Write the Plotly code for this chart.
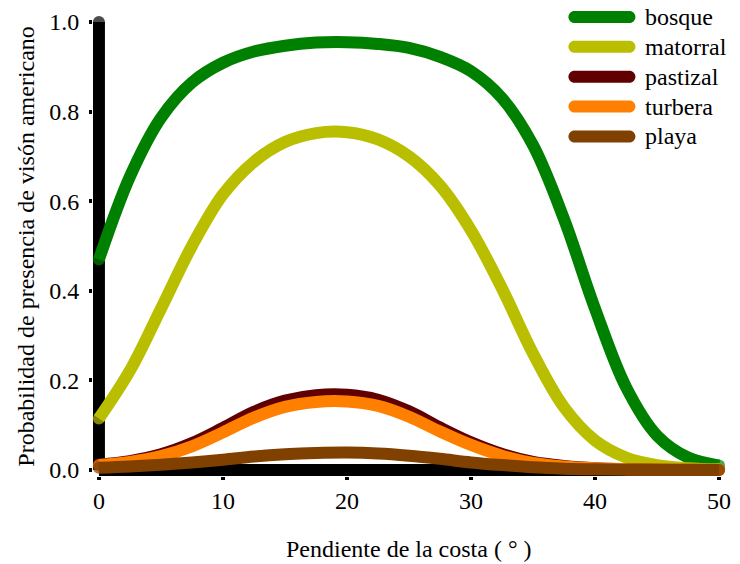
import plotly.graph_objects as go

# Pendiente de la costa (grados)
pendiente = [0, 2.5, 5, 7.5, 10, 12.5, 15, 17.5, 20, 22.5, 25,
             27.5, 30, 32.5, 35, 37.5, 40, 42.5, 45, 47.5, 50]

# Probabilidad de presencia por tipo de hábitat
bosque = [0.47, 0.655, 0.786, 0.865, 0.909, 0.934, 0.947, 0.954, 0.955, 0.951, 0.942,
          0.922, 0.89, 0.83, 0.725, 0.56, 0.36, 0.185, 0.077, 0.028, 0.01]
matorral = [0.115, 0.222, 0.36, 0.5, 0.615, 0.688, 0.732, 0.752, 0.754, 0.738, 0.7,
            0.635, 0.535, 0.405, 0.26, 0.14, 0.066, 0.028, 0.011, 0.004, 0.0015]
pastizal = [0.012, 0.02, 0.035, 0.06, 0.094, 0.13, 0.155, 0.167, 0.168, 0.157, 0.131,
            0.095, 0.062, 0.036, 0.018, 0.009, 0.004, 0.002, 0.001, 0.0005, 0.0002]
turbera = [0.011, 0.018, 0.031, 0.053, 0.084, 0.117, 0.141, 0.152, 0.153, 0.143, 0.119,
           0.086, 0.056, 0.032, 0.016, 0.008, 0.004, 0.002, 0.001, 0.0005, 0.0002]
playa = [0.005, 0.008, 0.012, 0.017, 0.023, 0.03, 0.035, 0.038, 0.039, 0.037, 0.032,
         0.025, 0.017, 0.011, 0.006, 0.003, 0.0015, 0.0007, 0.0003, 0.0001, 0.0001]

series = [
    ("bosque", bosque, "#008000"),
    ("matorral", matorral, "#b9bf00"),
    ("pastizal", pastizal, "#600000"),
    ("turbera", turbera, "#ff8000"),
    ("playa", playa, "#804000"),
]

x_ticks = [0, 10, 20, 30, 40, 50]
y_ticks = [0.0, 0.2, 0.4, 0.6, 0.8, 1.0]

FONT = "Liberation Serif"
LW = 12

fig = go.Figure()

# heavy axis lines drawn in data space, with rounded ends
fig.add_trace(go.Scatter(
    x=[0, 0], y=[y_ticks[-1], y_ticks[0]], mode="lines+markers",
    line=dict(color="black", width=LW),
    marker=dict(color="black", size=[LW, 0], line=dict(width=0)),
    showlegend=False, hoverinfo="skip", cliponaxis=False))
fig.add_trace(go.Scatter(
    x=[x_ticks[0], x_ticks[-1]], y=[0, 0], mode="lines",
    line=dict(color="black", width=LW),
    showlegend=False, hoverinfo="skip", cliponaxis=False))

n = len(pendiente)
for name, vals, color in series:
    sizes = [LW] + [0] * (n - 2) + [LW]
    fig.add_trace(go.Scatter(
        x=pendiente, y=vals, name=name, mode="lines+markers",
        line=dict(color=color, width=LW, shape="spline", smoothing=1.0),
        marker=dict(color=color, size=sizes, line=dict(width=0)),
        showlegend=False, cliponaxis=False))

# plot area geometry (pixels)
L, R, T, B = 93, 9, 14, 88
W, H = 740, 564
pw, ph = W - L - R, H - T - B

# custom legend with long rounded swatches
leg_x_px = 579
leg_rows_px = [15, 45, 75, 105, 135]
half = 6
length = 55
k = 0.552 * half
stadium = (f"M0,{-half} L{length},{-half} "
           f"C{length + k},{-half} {length + half},{-k} {length + half},0 "
           f"C{length + half},{k} {length + k},{half} {length},{half} "
           f"L0,{half} C{-k},{half} {-half},{k} {-half},0 "
           f"C{-half},{-k} {-k},{-half} 0,{-half} Z")
shapes = []
annotations = []
for (name, _, color), row in zip(series, leg_rows_px):
    px_ = (leg_x_px - L) / pw
    py_ = (H - B - row) / ph
    shapes.append(dict(type="path", xref="paper", yref="paper",
                       xsizemode="pixel", ysizemode="pixel",
                       xanchor=px_, yanchor=py_, path=stadium,
                       fillcolor=color, line=dict(width=0), layer="above"))
    annotations.append(dict(xref="paper", yref="paper", x=(648 - L) / pw, y=py_,
                            xanchor="left", yanchor="middle", showarrow=False,
                            text=name, font=dict(family=FONT, size=24, color="black")))

annotations.append(dict(xref="paper", yref="paper", x=(25 - L) / pw, y=0.5,
                        xanchor="center", yanchor="middle", textangle=-90,
                        showarrow=False, text="Probabilidad de presencia de visón americano",
                        font=dict(family=FONT, size=24, color="black")))
annotations.append(dict(xref="paper", yref="paper", x=0.5, y=(H - B - 549) / ph,
                        xanchor="center", yanchor="middle", showarrow=False,
                        text="Pendiente de la costa ( ° )",
                        font=dict(family=FONT, size=24, color="black")))

fig.update_layout(
    width=W, height=H,
    margin=dict(l=L, r=R, t=T, b=B),
    plot_bgcolor="white", paper_bgcolor="white",
    font=dict(family=FONT, size=24, color="black"),
    shapes=shapes, annotations=annotations,
    showlegend=False,
)
fig.update_xaxes(range=[-6 / 12.52, 50 + 6 / 12.52], tickvals=x_ticks,
                 ticks="outside", ticklen=3, tickwidth=4, tickcolor="black",
                 showgrid=False, zeroline=False, showline=False,
                 tickfont=dict(family=FONT, size=24))
fig.update_yaxes(range=[-6 / 450, 1 + 6 / 450], tickvals=y_ticks,
                 ticktext=[f"{v:.1f}" for v in y_ticks],
                 ticks="outside", ticklen=3, tickwidth=4, tickcolor="black",
                 ticklabelstandoff=5,
                 showgrid=False, zeroline=False, showline=False,
                 tickfont=dict(family=FONT, size=24))

fig.write_html("out.html")
